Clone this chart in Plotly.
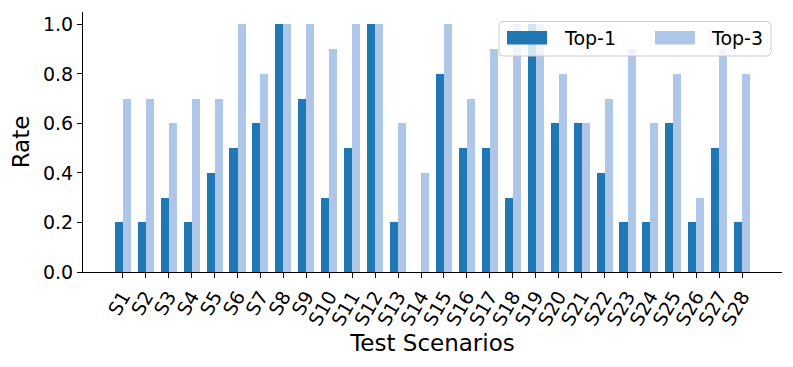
import plotly.graph_objects as go

# data
scenarios = ["S" + str(i) for i in range(1, 29)]
top1 = [0.2, 0.2, 0.3, 0.2, 0.4, 0.5, 0.6, 1.0, 0.7, 0.3, 0.5, 1.0, 0.2, 0.0,
        0.8, 0.5, 0.5, 0.3, 1.0, 0.6, 0.6, 0.4, 0.2, 0.2, 0.6, 0.2, 0.5, 0.2]
top3 = [0.7, 0.7, 0.6, 0.7, 0.7, 1.0, 0.8, 1.0, 1.0, 0.9, 1.0, 1.0, 0.6, 0.4,
        1.0, 0.7, 0.9, 1.0, 1.0, 0.8, 0.6, 0.7, 0.9, 0.6, 0.8, 0.3, 0.9, 0.8]
series_names = ["Top-1", "Top-3"]
colors = ["#1f77b4", "#aec7e8"]
yticks = [0.0, 0.2, 0.4, 0.6, 0.8, 1.0]

# page body has an 8px margin, so the figure is shrunk to fit the window
OFF = 8
W, H = 793 - 2 * OFF, 367 - 2 * OFF
ML, MR, MT, MB = 83 - OFF, 11 - OFF, 12 - OFF, 95 - OFF
PW, PH = W - ML - MR, H - MT - MB
bw = 0.35
idx = list(range(len(scenarios)))
FONT = "DejaVu Sans"


def px(x):
    # window pixel -> paper x
    return (x - OFF - ML) / PW


def py(y):
    # window pixel -> paper y
    return (H + OFF - MB - y) / PH


fig = go.Figure()
for k, (name, vals) in enumerate(zip(series_names, [top1, top3])):
    off = -bw / 2 if k == 0 else bw / 2
    fig.add_trace(go.Bar(
        x=[i + off for i in idx], y=vals, width=bw, name=name,
        marker=dict(color=colors[k], line=dict(width=0)),
        showlegend=False,
    ))

# matplotlib-style legend (semi-transparent box, long patches)
x0, x1, y0, y1 = px(499), px(771), py(56), py(21.5)
r = 4
rx, ry = r / PW, r / PH
path = (f"M {x0+rx},{y0} L {x1-rx},{y0} Q {x1},{y0} {x1},{y0+ry} "
        f"L {x1},{y1-ry} Q {x1},{y1} {x1-rx},{y1} L {x0+rx},{y1} "
        f"Q {x0},{y1} {x0},{y1-ry} L {x0},{y0+ry} Q {x0},{y0} {x0+rx},{y0} Z")
shapes = [dict(type="path", path=path, xref="paper", yref="paper",
               fillcolor="rgba(255,255,255,0.8)", line=dict(color="#cccccc", width=1))]
annotations = []
for k, (hx, tx) in enumerate([(507, 562), (655, 709)]):
    shapes.append(dict(type="rect", xref="paper", yref="paper",
                       x0=px(hx), x1=px(hx + 40), y0=py(44.5), y1=py(31),
                       fillcolor=colors[k], line=dict(width=0)))
    annotations.append(dict(text=series_names[k], xref="paper", yref="paper",
                            x=px(tx), y=py(38), xanchor="left", yanchor="middle",
                            showarrow=False, font=dict(size=19, color="black", family=FONT)))

fig.update_layout(
    template="none",
    width=W, height=H,
    margin=dict(l=ML, r=MR, t=MT, b=MB, autoexpand=False),
    paper_bgcolor="white", plot_bgcolor="white",
    barmode="overlay", bargap=0,
    font=dict(family=FONT, size=19, color="black"),
    shapes=shapes, annotations=annotations,
    xaxis=dict(
        range=[-1.735, 28.735], tickmode="array", tickvals=idx, ticktext=scenarios,
        tickangle=-60, ticks="outside", ticklen=5, tickwidth=1, tickcolor="black",
        showline=True, linecolor="black", linewidth=1, showgrid=False, zeroline=False,
        automargin=False,
        title=dict(text="Test Scenarios", font=dict(size=23), standoff=6),
        tickfont=dict(size=19),
    ),
    yaxis=dict(
        range=[0, 1.05], tickmode="array", tickvals=yticks, tickformat=".1f",
        ticks="outside", ticklen=5, tickwidth=1, tickcolor="black",
        showline=True, linecolor="black", linewidth=1, showgrid=False, zeroline=False,
        automargin=False,
        title=dict(text="Rate", font=dict(size=23), standoff=6),
        tickfont=dict(size=19),
    ),
)

fig.write_html("out.html")
